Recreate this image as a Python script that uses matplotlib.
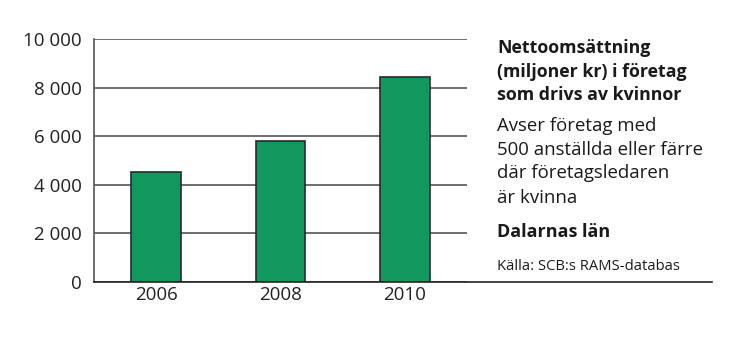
import matplotlib.pyplot as plt
from matplotlib.lines import Line2D

# Data
years = ["2006", "2008", "2010"]
turnover = [4530, 5800, 8440]
yticks = [0, 2000, 4000, 6000, 8000, 10000]
ytick_labels = ["0", "2 000", "4 000", "6 000", "8 000", "10 000"]

title_lines = ["Nettoomsättning", "(miljoner kr) i företag", "som drivs av kvinnor"]
note_lines = ["Avser företag med", "500 anställda eller färre",
              "där företagsledaren", "är kvinna"]
region = "Dalarnas län"
source = "Källa: SCB:s RAMS-databas"

plt.rcParams["font.family"] = ["Open Sans", "DejaVu Sans"]

fig = plt.figure(figsize=(7.46, 3.40), dpi=100)
ax = fig.add_axes([94 / 746, 1 - 282 / 340, (467 - 94) / 746, (282 - 39) / 340])

ax.yaxis.grid(color="#555555", linewidth=1.2, zorder=0)
ax.bar(range(len(years)), turnover, width=0.4, color="#10985f",
       edgecolor="#2a2a2a", linewidth=1.2, zorder=3)

ax.set_xlim(-0.5, 2.5)
ax.set_ylim(0, 10000)
ax.set_yticks(yticks)
ax.set_yticklabels(ytick_labels, fontsize=13.5, color="#222222")
ax.set_xticks(range(len(years)))
ax.set_xticklabels(years, fontsize=13.5, color="#222222")
ax.tick_params(length=0, pad=9)
ax.tick_params(axis="x", pad=3)

for side in ["top", "right", "bottom"]:
    ax.spines[side].set_visible(False)
ax.spines["left"].set_color("#555555")
ax.spines["left"].set_linewidth(1.2)

# Baseline running on under the text block
fig.add_artist(Line2D([94 / 746, 712 / 746], [1 - 282 / 340, 1 - 282 / 340],
                      color="#222222", linewidth=1.2))

tx = 497 / 746
def fy(py):
    return 1 - py / 340

for line, py in zip(title_lines, [53, 77, 100]):
    fig.text(tx, fy(py), line, fontsize=12.8, fontweight="bold",
             color="#1a1a1a", va="baseline")
for line, py in zip(note_lines, [131, 155, 178, 203]):
    fig.text(tx, fy(py), line, fontsize=13.4, color="#1a1a1a", va="baseline")
fig.text(tx, fy(237), region, fontsize=13, fontweight="bold",
         color="#1a1a1a", va="baseline")
fig.text(tx, fy(270), source, fontsize=10.6, color="#1a1a1a", va="baseline")

fig.savefig("out.png", dpi=100)
